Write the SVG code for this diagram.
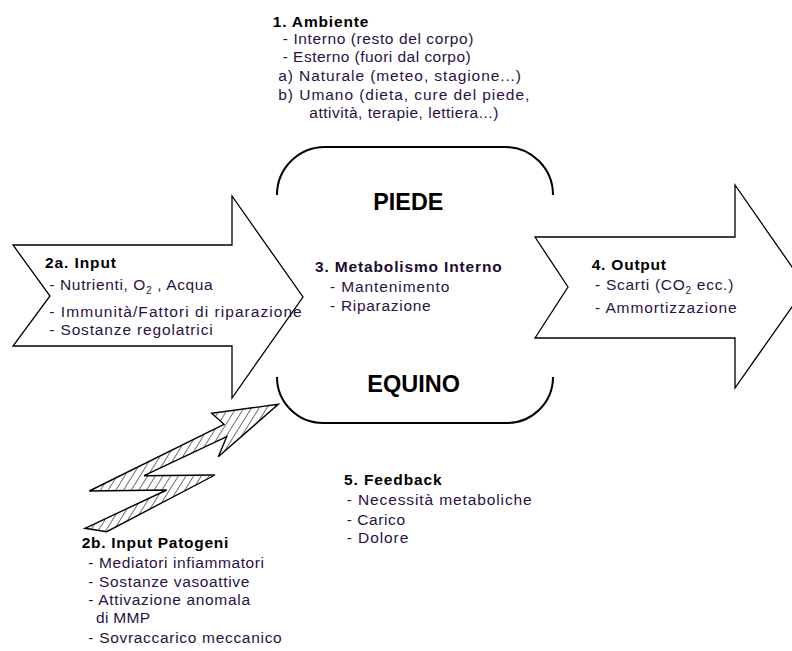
<svg xmlns="http://www.w3.org/2000/svg" width="792" height="651" viewBox="0 0 792 651">
  <style>
    text { font-family: "Liberation Sans", Arial, sans-serif; font-size: 15.5px; }
    .h { font-weight: bold; fill: #000; }
    .m { font-weight: bold; fill: #1c0c30; }
    .i { fill: #2a1145; }
    .big { font-weight: bold; font-size: 23px; fill: #000; }
    .arrow { fill: #fff; stroke: #000; stroke-width: 1.3; stroke-linejoin: miter; }
    .cap { fill: none; stroke: #000; stroke-width: 2; }
    .bolt { fill: url(#hatch); stroke: #000; stroke-width: 1.4; stroke-linejoin: miter; }
  </style>
  <defs>
    <pattern id="hatch" width="6.5" height="6.5" patternUnits="userSpaceOnUse" patternTransform="rotate(32)">
      <rect width="6.5" height="6.5" fill="#fff"/>
      <line x1="0" y1="0" x2="0" y2="6.5" stroke="#000" stroke-width="1.1"/>
    </pattern>
  </defs>
  <rect width="792" height="651" fill="#fff"/>

  <!-- connectors: block arrows in and out of the foot, pathogen bolt -->
  <g id="connectors">
    <polygon id="arrow-input" class="arrow" points="13,245 232,245 232,196 303,297 232,398 232,346 13,346 50,296"/>
    <polygon id="arrow-output" class="arrow" points="535,237 735,237 735,185 806,287 735,388 735,338 535,338 568,287"/>
    <polygon id="bolt-pathogens" class="bolt" points="278.3,404.3 211.7,413.3 224,424.3 89.3,491 166.7,490 85,528.3 106.7,531.7 215,475 144,475.7 226.7,436.7 218.3,456.7"/>
  </g>

  <!-- central node: foot of the horse -->
  <g id="node-piede">
    <path class="cap" d="M277,195 A48,48 0 0 1 325,147 H505 A48,48 0 0 1 553,195"/>
    <path class="cap" d="M277,377 A46,46 0 0 0 323,423 H507 A46,46 0 0 0 553,377"/>
    <text class="big" x="373.3" y="210" textLength="70" lengthAdjust="spacingAndGlyphs">PIEDE</text>
    <text class="big" x="367.3" y="392.3" textLength="92.7" lengthAdjust="spacingAndGlyphs">EQUINO</text>
    <text class="m" x="315" y="272.3" textLength="186.7" lengthAdjust="spacing">3. Metabolismo Interno</text>
    <text class="i" x="330" y="291.7" textLength="119.3" lengthAdjust="spacing">- Mantenimento</text>
    <text class="i" x="330" y="310.5" textLength="100.7" lengthAdjust="spacing">- Riparazione</text>
  </g>

  <!-- 1. environment -->
  <g id="node-ambiente">
    <text class="h" x="272.7" y="26.7" textLength="95.6" lengthAdjust="spacing">1. Ambiente</text>
    <text class="i" x="282.7" y="43.5" textLength="190.6" lengthAdjust="spacing">- Interno (resto del corpo)</text>
    <text class="i" x="282.7" y="62" textLength="188" lengthAdjust="spacing">- Esterno (fuori dal corpo)</text>
    <text class="i" x="278.3" y="80.5" textLength="242.7" lengthAdjust="spacing">a) Naturale (meteo, stagione...)</text>
    <text class="i" x="278.3" y="99.5" textLength="251" lengthAdjust="spacing">b) Umano (dieta, cure del piede,</text>
    <text class="i" x="309.3" y="118" textLength="189" lengthAdjust="spacing">attività, terapie, lettiera...)</text>
  </g>

  <!-- 2a. input -->
  <g id="node-input">
    <text class="h" x="45" y="268.3" textLength="71" lengthAdjust="spacing">2a. Input</text>
    <text class="i" x="49.3" y="290" textLength="163.4" lengthAdjust="spacing">- Nutrienti, O<tspan font-size="10" dy="4">2</tspan><tspan dy="-4"> , Acqua</tspan></text>
    <text class="i" x="49.3" y="317.3" textLength="252.4" lengthAdjust="spacing">- Immunità/Fattori di riparazione</text>
    <text class="i" x="49.3" y="335" textLength="163.4" lengthAdjust="spacing">- Sostanze regolatrici</text>
  </g>

  <!-- 4. output -->
  <g id="node-output">
    <text class="h" x="591.7" y="270" textLength="74.3" lengthAdjust="spacing">4. Output</text>
    <text class="i" x="595" y="290" textLength="138.3" lengthAdjust="spacing">- Scarti (CO<tspan font-size="10" dy="4">2</tspan><tspan dy="-4"> ecc.)</tspan></text>
    <text class="i" x="595" y="313.3" textLength="141.7" lengthAdjust="spacing">- Ammortizzazione</text>
  </g>

  <!-- 2b. pathogenic input -->
  <g id="node-patogeni">
    <text class="h" x="81.7" y="548.3" textLength="146.6" lengthAdjust="spacing">2b. Input Patogeni</text>
    <text class="i" x="88.3" y="568.3" textLength="175.7" lengthAdjust="spacing">- Mediatori infiammatori</text>
    <text class="i" x="88.3" y="586.7" textLength="161" lengthAdjust="spacing">- Sostanze vasoattive</text>
    <text class="i" x="88.3" y="605" textLength="161.7" lengthAdjust="spacing">- Attivazione anomala</text>
    <text class="i" x="96" y="623.3" textLength="54" lengthAdjust="spacing">di MMP</text>
    <text class="i" x="88.3" y="642.7" textLength="193.4" lengthAdjust="spacing">- Sovraccarico meccanico</text>
  </g>

  <!-- 5. feedback -->
  <g id="node-feedback">
    <text class="h" x="344" y="485" textLength="97.7" lengthAdjust="spacing">5. Feedback</text>
    <text class="i" x="346.7" y="505" textLength="185" lengthAdjust="spacing">- Necessità metaboliche</text>
    <text class="i" x="346.7" y="525" textLength="58.3" lengthAdjust="spacing">- Carico</text>
    <text class="i" x="346.7" y="543.3" textLength="61.6" lengthAdjust="spacing">- Dolore</text>
  </g>
</svg>
